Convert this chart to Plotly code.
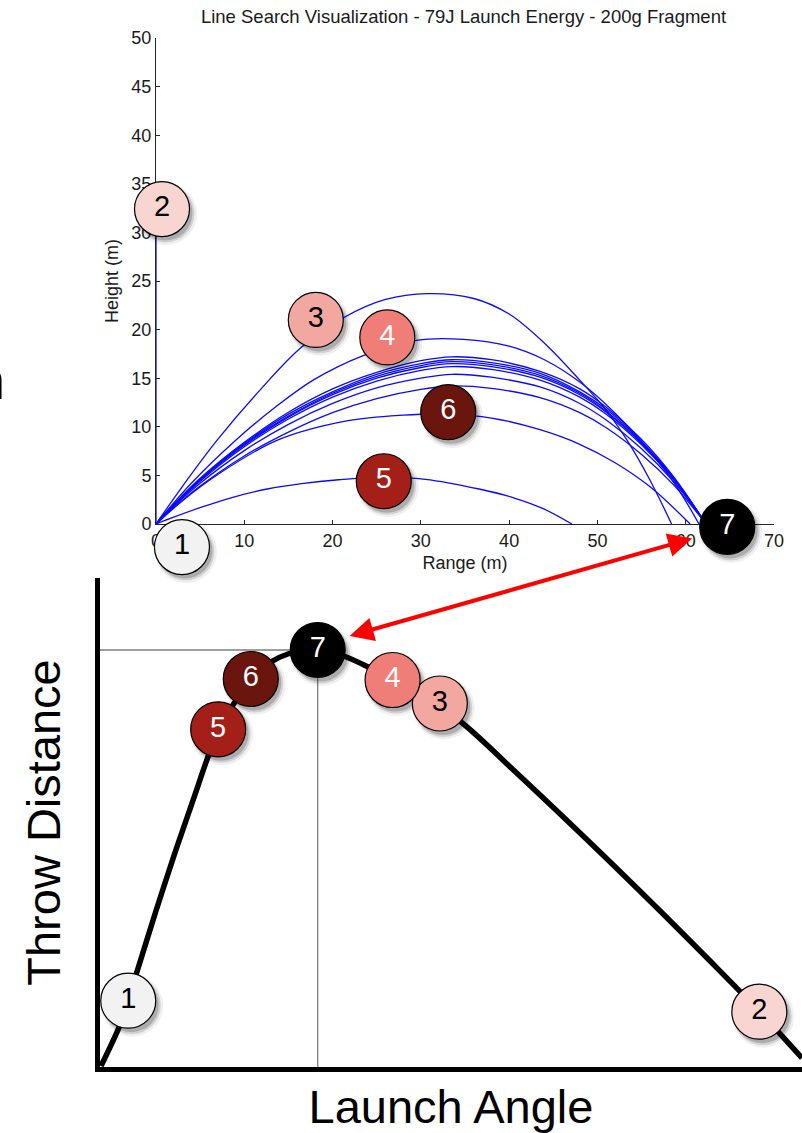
import plotly.graph_objects as go

W, H = 802, 1133

# ---------------- top chart: trajectories (Range m vs Height m) ----------------
range_ticks = [0, 10, 20, 30, 40, 50, 60, 70]
height_ticks = [0, 5, 10, 15, 20, 25, 30, 35, 40, 45, 50]

traj2_x = [0, 0]
traj2_y = [0, 33]

traj3_x = [0, 3.1, 6.9, 11.8, 16.5, 21.4, 26.0, 30.7, 36.0, 40.0, 44.0, 48.0, 51.0, 53.3, 55.9, 58.4]
traj3_y = [0, 4.0, 8.6, 13.8, 18.2, 21.3, 23.1, 23.7, 23.2, 21.6, 18.6, 14.8, 11.7, 8.7, 4.6, 0]

traj4_x = [0, 4, 9, 13.5, 17.8, 23.4, 29.5, 34.8, 40, 44, 48, 52, 56, 59, 61.5]
traj4_y = [0, 4.2, 8.6, 12.0, 14.8, 17.3, 18.9, 19.0, 18.3, 16.9, 14.6, 11.4, 7.4, 3.8, 0]

bundle_x = [0, 2, 5, 10, 15, 20, 25, 30, 33.5, 38, 43.5, 48, 51, 55, 58.6, 62.3]
bundle_a_y = [0, 2.0, 4.7, 8.4, 11.5, 13.9, 15.6, 16.8, 17.2, 16.9, 15.7, 13.9, 12.0, 8.7, 4.9, 0]
bundle_b_y = [0, 1.95, 4.6, 8.3, 11.3, 13.6, 15.4, 16.5, 16.9, 16.6, 15.5, 13.6, 11.8, 8.5, 4.8, 0]
bundle_c_y = [0, 1.9, 4.55, 8.2, 11.1, 13.45, 15.2, 16.3, 16.7, 16.4, 15.3, 13.45, 11.6, 8.4, 4.75, 0]
bundle_d_y = [0, 1.9, 4.5, 8.1, 11.0, 13.3, 15.0, 16.1, 16.5, 16.2, 15.1, 13.3, 11.5, 8.3, 4.7, 0]
bundle_e_y = [0, 1.85, 4.4, 7.95, 10.8, 13.05, 14.7, 15.8, 16.2, 15.9, 14.8, 13.05, 11.3, 8.15, 4.6, 0]
bundle_f_y = [0, 1.8, 4.2, 7.55, 10.25, 12.4, 14.0, 15.0, 15.4, 15.1, 14.1, 12.4, 10.7, 7.75, 4.4, 0]
bundle_g_y = [0, 1.65, 3.9, 7.0, 9.45, 11.45, 12.9, 13.85, 14.2, 13.95, 13.0, 11.45, 9.9, 7.15, 4.05, 0]

traj6_x = [0, 3, 7, 13.7, 21.6, 28, 33, 38, 43.5, 48, 52, 56, 60.5]
traj6_y = [0, 2.4, 5.1, 8.6, 10.6, 11.2, 11.3, 10.9, 9.7, 8.2, 6.3, 3.8, 0]

traj5_x = [0, 2, 4.9, 8.5, 12.6, 16.5, 20.7, 25.5, 30.5, 36.6, 40.5, 43.8, 47.1]
traj5_y = [0, 0.7, 1.65, 2.7, 3.6, 4.15, 4.55, 4.8, 4.6, 3.6, 2.7, 1.6, 0]

# numbered iteration markers
marker_labels = ["1", "2", "3", "4", "5", "6", "7"]
marker_fill = ["#F2F2F2", "#F9D5D2", "#F2A7A1", "#EE7E77", "#A41F18", "#6B150F", "#000000"]
marker_text_color = ["#000000", "#000000", "#000000", "#FFFFFF", "#FFFFFF", "#FFFFFF", "#FFFFFF"]
top_marker_x = [2.94, 0.68, 18.1, 26.2, 25.8, 33.1, 64.7]
top_marker_y = [-2.37, 32.4, 21.0, 19.2, 4.4, 11.5, -0.3]

# ---------------- bottom chart: throw distance vs launch angle ----------------
angle_pts = [0.13, 2.47, 3.58, 4.61, 7.17, 9.73, 11.91, 13.79, 15.15, 17.19, 19.33, 21.89,
             24.07, 25.73, 27.91, 31.24, 34.31, 37.51, 45.96, 53.00, 59.40, 65.80, 72.20,
             78.60, 84.49, 90.0]
distance_pts = [0.2, 8.24, 13.50, 18.81, 31.90, 44.38, 54.46, 63.2, 68.8, 74.37, 79.35, 82.82,
                84.46, 85.07, 85.28, 84.05, 81.86, 79.14, 70.96, 60.74, 51.12, 41.31, 31.29,
                21.06, 11.45, 1.84]
bottom_marker_x = [3.62, 84.53, 43.57, 37.51, 15.15, 19.33, 27.91]
bottom_marker_y = [13.56, 11.31, 74.34, 79.14, 69.06, 79.35, 85.28]

# ---------------- layout geometry ----------------
top_xdom = [156 / W, 774 / W]
top_ydom = [1 - 524 / H, 1 - 38 / H]
top_xr, top_yr = [0, 70], [0, 50]
bot_xdom = [100 / W, 1.0]
bot_ydom = [1 - 1067 / H, 1 - 578 / H]
bot_xr, bot_yr = [0, 90], [0, 100]

def px_per_unit(dom, rng, size):
    return (dom[1] - dom[0]) * size / (rng[1] - rng[0])

# invisible overlay for the top markers that sit below the top chart's axis
sy_top = px_per_unit(top_ydom, top_yr, H)
ov_bottom_px = 600
ov_ydom = [1 - ov_bottom_px / H, top_ydom[1]]
ov_yr = [top_yr[0] - (ov_bottom_px - 524) / sy_top, top_yr[1]]

fig = go.Figure()

BLUE = "#0A0AFF"
top_series = [(traj2_x, traj2_y), (traj3_x, traj3_y), (traj4_x, traj4_y)]
for ys in [bundle_a_y, bundle_b_y, bundle_c_y, bundle_d_y, bundle_e_y, bundle_f_y, bundle_g_y]:
    top_series.append((bundle_x, ys))
top_series += [(traj6_x, traj6_y), (traj5_x, traj5_y)]
for xs, ys in top_series:
    fig.add_trace(go.Scatter(x=xs, y=ys, mode="lines", line=dict(color=BLUE, width=1.3, shape="spline"),
                             xaxis="x", yaxis="y", hoverinfo="skip", cliponaxis=False))

# bottom curve and optimum guides
fig.add_trace(go.Scatter(x=angle_pts, y=distance_pts, mode="lines",
                         line=dict(color="black", width=5.5, shape="spline", smoothing=0.8),
                         xaxis="x2", yaxis="y2", hoverinfo="skip", cliponaxis=False))
i_opt = distance_pts.index(max(distance_pts))
opt_a, opt_d = angle_pts[i_opt], distance_pts[i_opt]
fig.add_trace(go.Scatter(x=[bot_xr[0], opt_a, opt_a], y=[opt_d, opt_d, bot_yr[0]], mode="lines",
                         line=dict(color="#7F7F7F", width=1.3), xaxis="x2", yaxis="y2",
                         hoverinfo="skip"))

def add_markers(xs, ys, xa, ya, xdom, xr, ydom, yr):
    sx = px_per_unit(xdom, xr, W)
    sy = px_per_unit(ydom, yr, H)
    for off, size, col in [(4, 62, "rgba(0,0,0,0.06)"), (3.5, 58, "rgba(0,0,0,0.12)"), (3, 55, "rgba(0,0,0,0.18)")]:
        fig.add_trace(go.Scatter(x=[v + off / sx for v in xs], y=[v - (off + 1) / sy for v in ys],
                                 mode="markers", marker=dict(size=size, color=col, line=dict(width=0)),
                                 xaxis=xa, yaxis=ya, hoverinfo="skip", cliponaxis=False))
    fig.add_trace(go.Scatter(x=xs, y=ys, mode="markers+text", text=marker_labels,
                             textposition="middle center",
                             textfont=dict(size=29, color=marker_text_color, family="Liberation Sans, Arial"),
                             marker=dict(size=55, color=marker_fill, line=dict(color="black", width=1.2)),
                             xaxis=xa, yaxis=ya, hoverinfo="skip", cliponaxis=False))

add_markers(top_marker_x, top_marker_y, "x3", "y3", top_xdom, top_xr, ov_ydom, ov_yr)
add_markers(bottom_marker_x, bottom_marker_y, "x2", "y2", bot_xdom, bot_xr, bot_ydom, bot_yr)

MFONT = dict(family="Liberation Sans, Arial", size=18, color="#1A1A1A")
AX = "#262626"

fig.update_layout(
    width=W, height=H, margin=dict(l=0, r=0, t=0, b=0),
    paper_bgcolor="white", plot_bgcolor="rgba(0,0,0,0)", showlegend=False,
    title=dict(text="Line Search Visualization - 79J Launch Energy - 200g Fragment",
               x=463.5 / W, xanchor="center", xref="paper", y=1 - 17 / H, yanchor="middle",
               yref="container", font=dict(family="Liberation Sans, Arial", size=18.5, color="#1A1A1A")),
    xaxis=dict(domain=top_xdom, range=top_xr, anchor="y", tickvals=range_ticks, ticks="inside",
               ticklen=4, tickwidth=1, tickcolor=AX, showline=True, linecolor=AX, linewidth=1,
               showgrid=False, zeroline=False, tickfont=MFONT, layer="below traces",
               title=dict(text="Range (m)", font=MFONT, standoff=6), automargin=False),
    yaxis=dict(domain=top_ydom, range=top_yr, anchor="x", tickvals=height_ticks, ticks="inside",
               ticklen=4, tickwidth=1, tickcolor=AX, showline=True, linecolor=AX, linewidth=1,
               showgrid=False, zeroline=False, tickfont=MFONT, layer="below traces",
               title=dict(text="Height (m)", font=MFONT, standoff=8), automargin=False),
    xaxis3=dict(domain=top_xdom, range=top_xr, anchor="y3", visible=False),
    yaxis3=dict(domain=ov_ydom, range=ov_yr, anchor="x3", visible=False),
    xaxis2=dict(domain=bot_xdom, range=bot_xr, anchor="y2", showline=True, linecolor="black",
                linewidth=5, ticks="", showticklabels=False, showgrid=False, zeroline=False,
                layer="below traces", automargin=False,
                title=dict(text="Launch Angle", font=dict(family="Liberation Sans, Arial", size=47, color="black"),
                           standoff=21)),
    yaxis2=dict(domain=bot_ydom, range=bot_yr, anchor="x2", showline=True, linecolor="black",
                linewidth=5, ticks="", showticklabels=False, showgrid=False, zeroline=False,
                layer="below traces", automargin=False,
                title=dict(text="Throw Distance", font=dict(family="Liberation Sans, Arial", size=47, color="black"),
                           standoff=21)),
)

# double-headed red arrow linking the best trajectory to the peak of the curve
fig.add_annotation(x=32.0, y=88.14, xref="x2", yref="y2", ax=344, ay=-98, axref="pixel", ayref="pixel",
                   text="", showarrow=True, arrowhead=2, startarrowhead=2, arrowside="end+start",
                   arrowsize=1.2, startarrowsize=1.2, arrowwidth=4, arrowcolor="#FF0000", standoff=0,
                   startstandoff=0)

# clipped fragment of slide text at the left edge
fig.add_annotation(x=7 / W, y=1 - 380 / H, xref="paper", yref="paper", xanchor="right", yanchor="middle",
                   text="n", showarrow=False, font=dict(family="Liberation Sans, Arial", size=54, color="black"))

fig.write_html("out.html", config={"displayModeBar": False},
               post_script="document.body.style.margin='0px';document.body.style.overflow='hidden';")
